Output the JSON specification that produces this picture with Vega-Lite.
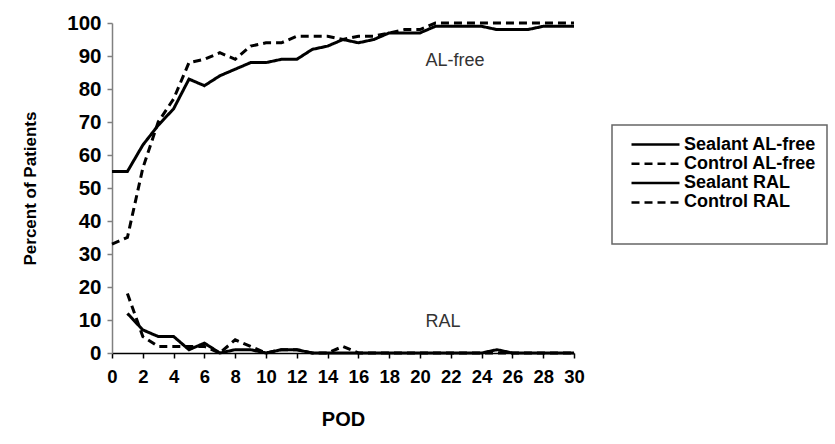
{
  "$schema": "https://vega.github.io/schema/vega-lite/v6.json",
  "width": 462,
  "height": 330,
  "autosize": {"type": "none"},
  "padding": {"left": 112, "top": 23, "right": 261, "bottom": 91},
  "background": "white",
  "config": {
    "view": {"stroke": null},
    "font": "Liberation Sans",
    "axis": {"labelOverlap": false, "grid": false, "labelFlush": false}
  },
  "encoding": {
    "x": {
      "field": "pod", "type": "quantitative",
      "scale": {"domain": [0, 30], "nice": false},
      "axis": {
        "title": "POD", "values": [0,2,4,6,8,10,12,14,16,18,20,22,24,26,28,30],
        "grid": false, "domainColor": "black", "domainWidth": 1.5,
        "tickColor": "black", "tickWidth": 1.5, "tickSize": 5,
        "labelFont": "Liberation Sans", "labelFontSize": 18.5, "labelFontWeight": "bold", "labelColor": "black",
        "labelPadding": 9, "labelFlush": false, "labelOverlap": false,
        "titleFont": "Liberation Sans", "titleFontSize": 20, "titleFontWeight": "bold", "titleColor": "black",
        "titlePadding": 24
      }
    },
    "y": {
      "field": "pct", "type": "quantitative",
      "scale": {"domain": [0, 100], "nice": false},
      "axis": {
        "title": "Percent of Patients", "values": [0,10,20,30,40,50,60,70,80,90,100],
        "grid": false, "domainColor": "#808080", "domainWidth": 1.5,
        "tickColor": "#808080", "tickWidth": 1.5, "tickSize": 5,
        "labelFont": "Liberation Sans", "labelFontSize": 20.5, "labelFontWeight": "bold", "labelColor": "black",
        "labelPadding": 6, "labelOverlap": false,
        "titleFont": "Liberation Sans", "titleFontSize": 17, "titleFontWeight": "bold", "titleColor": "black",
        "titlePadding": 27
      }
    }
  },
  "layer": [
    {
      "data": {
        "values": [
          {"pod": 0, "series": "Sealant AL-free", "pct": 55},
          {"pod": 1, "series": "Sealant AL-free", "pct": 55},
          {"pod": 2, "series": "Sealant AL-free", "pct": 63},
          {"pod": 3, "series": "Sealant AL-free", "pct": 69},
          {"pod": 4, "series": "Sealant AL-free", "pct": 74},
          {"pod": 5, "series": "Sealant AL-free", "pct": 83},
          {"pod": 6, "series": "Sealant AL-free", "pct": 81},
          {"pod": 7, "series": "Sealant AL-free", "pct": 84},
          {"pod": 8, "series": "Sealant AL-free", "pct": 86},
          {"pod": 9, "series": "Sealant AL-free", "pct": 88},
          {"pod": 10, "series": "Sealant AL-free", "pct": 88},
          {"pod": 11, "series": "Sealant AL-free", "pct": 89},
          {"pod": 12, "series": "Sealant AL-free", "pct": 89},
          {"pod": 13, "series": "Sealant AL-free", "pct": 92},
          {"pod": 14, "series": "Sealant AL-free", "pct": 93},
          {"pod": 15, "series": "Sealant AL-free", "pct": 95},
          {"pod": 16, "series": "Sealant AL-free", "pct": 94},
          {"pod": 17, "series": "Sealant AL-free", "pct": 95},
          {"pod": 18, "series": "Sealant AL-free", "pct": 97},
          {"pod": 19, "series": "Sealant AL-free", "pct": 97},
          {"pod": 20, "series": "Sealant AL-free", "pct": 97},
          {"pod": 21, "series": "Sealant AL-free", "pct": 99},
          {"pod": 22, "series": "Sealant AL-free", "pct": 99},
          {"pod": 23, "series": "Sealant AL-free", "pct": 99},
          {"pod": 24, "series": "Sealant AL-free", "pct": 99},
          {"pod": 25, "series": "Sealant AL-free", "pct": 98},
          {"pod": 26, "series": "Sealant AL-free", "pct": 98},
          {"pod": 27, "series": "Sealant AL-free", "pct": 98},
          {"pod": 28, "series": "Sealant AL-free", "pct": 99},
          {"pod": 29, "series": "Sealant AL-free", "pct": 99},
          {"pod": 30, "series": "Sealant AL-free", "pct": 99},
          {"pod": 0, "series": "Control AL-free", "pct": 33},
          {"pod": 1, "series": "Control AL-free", "pct": 35},
          {"pod": 2, "series": "Control AL-free", "pct": 56},
          {"pod": 3, "series": "Control AL-free", "pct": 70},
          {"pod": 4, "series": "Control AL-free", "pct": 77},
          {"pod": 5, "series": "Control AL-free", "pct": 88},
          {"pod": 6, "series": "Control AL-free", "pct": 89},
          {"pod": 7, "series": "Control AL-free", "pct": 91},
          {"pod": 8, "series": "Control AL-free", "pct": 89},
          {"pod": 9, "series": "Control AL-free", "pct": 93},
          {"pod": 10, "series": "Control AL-free", "pct": 94},
          {"pod": 11, "series": "Control AL-free", "pct": 94},
          {"pod": 12, "series": "Control AL-free", "pct": 96},
          {"pod": 13, "series": "Control AL-free", "pct": 96},
          {"pod": 14, "series": "Control AL-free", "pct": 96},
          {"pod": 15, "series": "Control AL-free", "pct": 95},
          {"pod": 16, "series": "Control AL-free", "pct": 96},
          {"pod": 17, "series": "Control AL-free", "pct": 96},
          {"pod": 18, "series": "Control AL-free", "pct": 97},
          {"pod": 19, "series": "Control AL-free", "pct": 98},
          {"pod": 20, "series": "Control AL-free", "pct": 98},
          {"pod": 21, "series": "Control AL-free", "pct": 100},
          {"pod": 22, "series": "Control AL-free", "pct": 100},
          {"pod": 23, "series": "Control AL-free", "pct": 100},
          {"pod": 24, "series": "Control AL-free", "pct": 100},
          {"pod": 25, "series": "Control AL-free", "pct": 100},
          {"pod": 26, "series": "Control AL-free", "pct": 100},
          {"pod": 27, "series": "Control AL-free", "pct": 100},
          {"pod": 28, "series": "Control AL-free", "pct": 100},
          {"pod": 29, "series": "Control AL-free", "pct": 100},
          {"pod": 30, "series": "Control AL-free", "pct": 100},
          {"pod": 1, "series": "Sealant RAL", "pct": 12},
          {"pod": 2, "series": "Sealant RAL", "pct": 7},
          {"pod": 3, "series": "Sealant RAL", "pct": 5},
          {"pod": 4, "series": "Sealant RAL", "pct": 5},
          {"pod": 5, "series": "Sealant RAL", "pct": 1},
          {"pod": 6, "series": "Sealant RAL", "pct": 3},
          {"pod": 7, "series": "Sealant RAL", "pct": 0},
          {"pod": 8, "series": "Sealant RAL", "pct": 1},
          {"pod": 9, "series": "Sealant RAL", "pct": 1},
          {"pod": 10, "series": "Sealant RAL", "pct": 0},
          {"pod": 11, "series": "Sealant RAL", "pct": 1},
          {"pod": 12, "series": "Sealant RAL", "pct": 1},
          {"pod": 13, "series": "Sealant RAL", "pct": 0},
          {"pod": 14, "series": "Sealant RAL", "pct": 0},
          {"pod": 15, "series": "Sealant RAL", "pct": 0},
          {"pod": 16, "series": "Sealant RAL", "pct": 0},
          {"pod": 17, "series": "Sealant RAL", "pct": 0},
          {"pod": 18, "series": "Sealant RAL", "pct": 0},
          {"pod": 19, "series": "Sealant RAL", "pct": 0},
          {"pod": 20, "series": "Sealant RAL", "pct": 0},
          {"pod": 21, "series": "Sealant RAL", "pct": 0},
          {"pod": 22, "series": "Sealant RAL", "pct": 0},
          {"pod": 23, "series": "Sealant RAL", "pct": 0},
          {"pod": 24, "series": "Sealant RAL", "pct": 0},
          {"pod": 25, "series": "Sealant RAL", "pct": 1},
          {"pod": 26, "series": "Sealant RAL", "pct": 0},
          {"pod": 27, "series": "Sealant RAL", "pct": 0},
          {"pod": 28, "series": "Sealant RAL", "pct": 0},
          {"pod": 29, "series": "Sealant RAL", "pct": 0},
          {"pod": 30, "series": "Sealant RAL", "pct": 0},
          {"pod": 1, "series": "Control RAL", "pct": 18},
          {"pod": 2, "series": "Control RAL", "pct": 5},
          {"pod": 3, "series": "Control RAL", "pct": 2},
          {"pod": 4, "series": "Control RAL", "pct": 2},
          {"pod": 5, "series": "Control RAL", "pct": 2},
          {"pod": 6, "series": "Control RAL", "pct": 2},
          {"pod": 7, "series": "Control RAL", "pct": 0},
          {"pod": 8, "series": "Control RAL", "pct": 4},
          {"pod": 9, "series": "Control RAL", "pct": 2},
          {"pod": 10, "series": "Control RAL", "pct": 0},
          {"pod": 11, "series": "Control RAL", "pct": 1},
          {"pod": 12, "series": "Control RAL", "pct": 1},
          {"pod": 13, "series": "Control RAL", "pct": 0},
          {"pod": 14, "series": "Control RAL", "pct": 0},
          {"pod": 15, "series": "Control RAL", "pct": 2},
          {"pod": 16, "series": "Control RAL", "pct": 0},
          {"pod": 17, "series": "Control RAL", "pct": 0},
          {"pod": 18, "series": "Control RAL", "pct": 0},
          {"pod": 19, "series": "Control RAL", "pct": 0},
          {"pod": 20, "series": "Control RAL", "pct": 0},
          {"pod": 21, "series": "Control RAL", "pct": 0},
          {"pod": 22, "series": "Control RAL", "pct": 0},
          {"pod": 23, "series": "Control RAL", "pct": 0},
          {"pod": 24, "series": "Control RAL", "pct": 0},
          {"pod": 25, "series": "Control RAL", "pct": 0},
          {"pod": 26, "series": "Control RAL", "pct": 0},
          {"pod": 27, "series": "Control RAL", "pct": 0},
          {"pod": 28, "series": "Control RAL", "pct": 0},
          {"pod": 29, "series": "Control RAL", "pct": 0},
          {"pod": 30, "series": "Control RAL", "pct": 0}
        ]
      },
      "mark": {"type": "line", "strokeWidth": 3, "color": "black", "clip": false},
      "encoding": {
        "strokeDash": {
          "field": "series", "type": "nominal",
          "scale": {
            "domain": ["Sealant AL-free", "Control AL-free", "Sealant RAL", "Control RAL"],
            "range": [[1, 0], [8, 5], [1, 0], [8, 5]]
          },
          "legend": {
            "orient": "none", "legendX": 500, "legendY": 102,
            "title": " ", "titleOrient": "bottom", "titlePadding": 7, "titleFontSize": 17,
            "padding": 10, "symbolOffset": 24,
            "symbolType": "M-3,0H3", "symbolSize": 256, "symbolStrokeWidth": 2.5, "symbolStrokeColor": "black",
            "labelFont": "Liberation Sans", "labelFontWeight": "bold", "labelFontSize": 18, "labelColor": "black",
            "labelOffset": 19, "rowPadding": 0.3,
            "strokeColor": "#666666", "fillColor": "white",
            "encode": {"legend": {"update": {"strokeWidth": {"value": 1.5}}}}
          }
        }
      }
    },
    {
      "data": {
        "values": [
          {"pod": 20.35, "pct": 88.6, "label": "AL-free"},
          {"pod": 20.35, "pct": 9.3, "label": "RAL"}
        ]
      },
      "mark": {"type": "text", "align": "left", "baseline": "middle", "fontSize": 18, "font": "Liberation Sans", "color": "#333333"},
      "encoding": {
        "text": {"field": "label"}
      }
    }
  ]
}
